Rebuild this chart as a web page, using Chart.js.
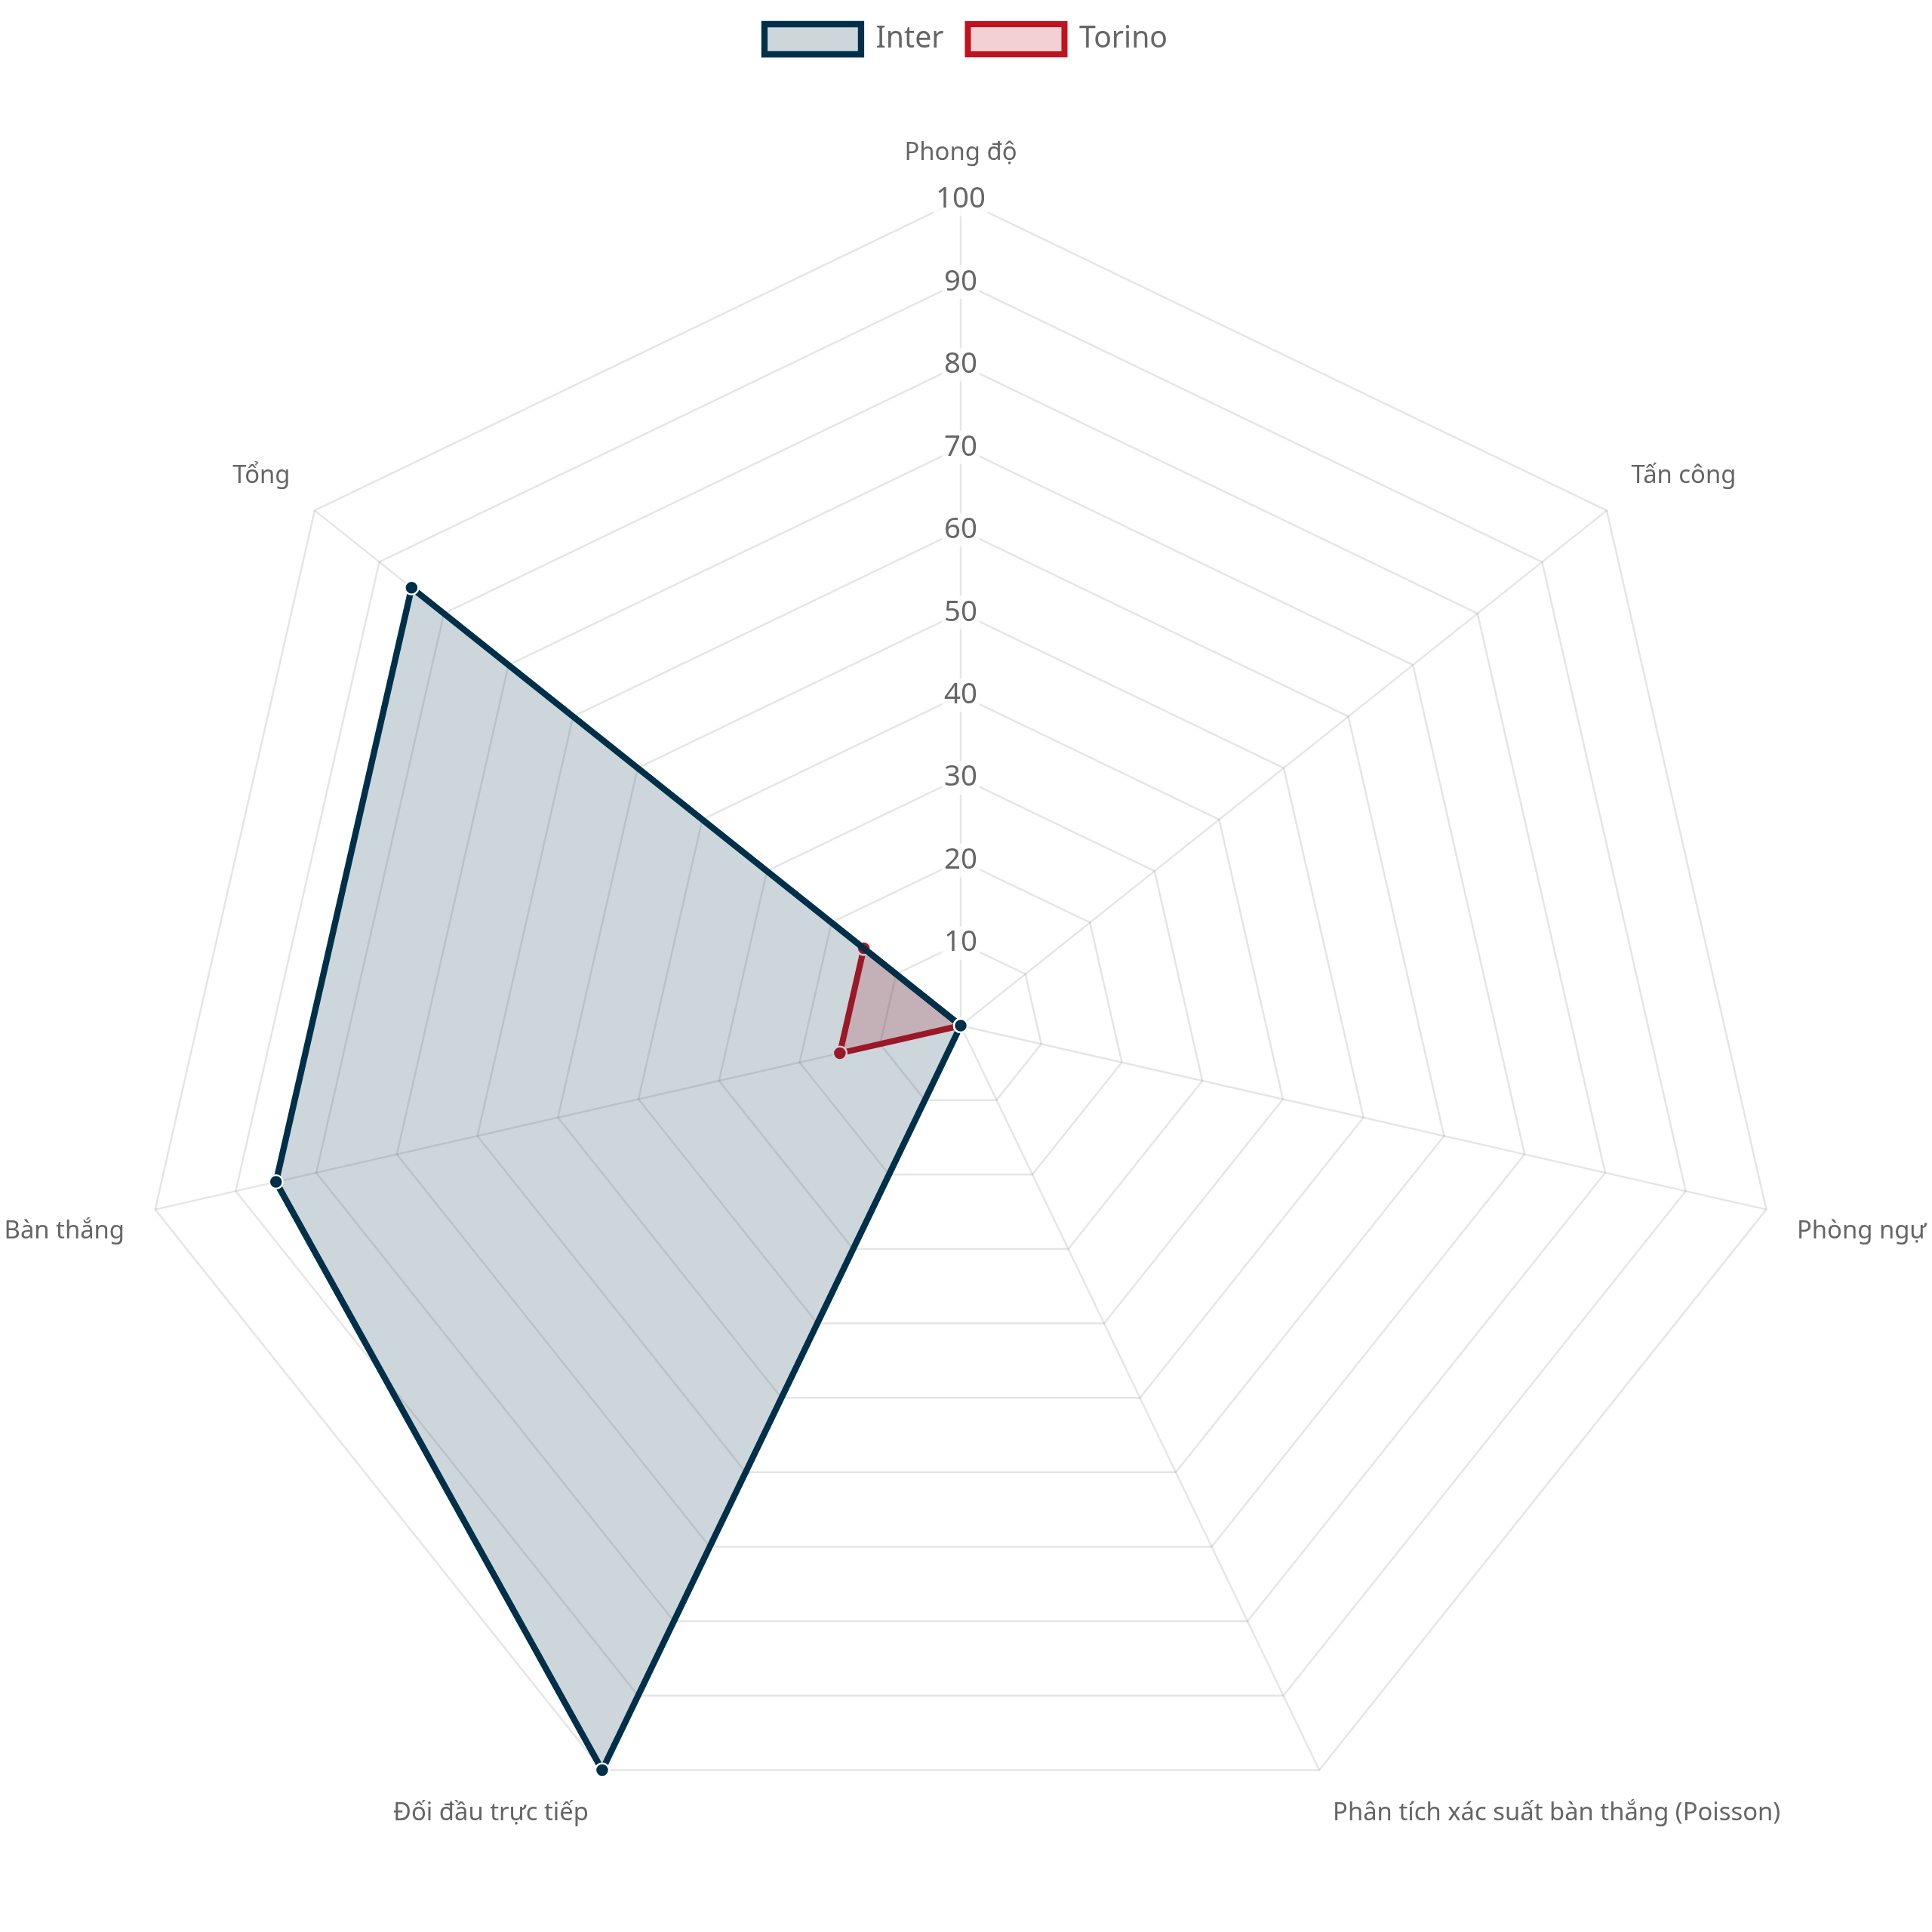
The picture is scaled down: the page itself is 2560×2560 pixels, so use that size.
<!DOCTYPE html>
<html>
<head>
<meta charset="utf-8">
<script src="https://cdn.jsdelivr.net/npm/chart.js@4.4.1/dist/chart.umd.min.js"></script>
<style>
  html, body { margin: 0; padding: 0; background: #fff; }
  #wrap { width: 2560px; height: 2560px; }
</style>
</head>
<body>
<div id="wrap"><canvas id="myChart" width="2560" height="2560"></canvas></div>
<script>
var labels = ['Phong độ', 'Tấn công', 'Phòng ngự', 'Phân tích xác suất bàn thắng (Poisson)', 'Đối đầu trực tiếp', 'Bàn thắng', 'Tổng'];
var interValues = [0, 0, 0, 0, 100, 85, 85];
var torinoValues = [0, 0, 0, 0, 0, 15, 15];
var tickMin = 0;
var tickMax = 100;
var tickStep = 10;

var s = 1.6; // scale factor for sizes

Chart.defaults.font.family = '"Noto Sans", "Open Sans", sans-serif';
Chart.defaults.color = '#666';

// a little extra room under the legend
var legendGap = {
    id: 'legendGap',
    beforeInit: function (chart) {
        var fit = chart.legend.fit;
        chart.legend.fit = function () {
            fit.bind(chart.legend)();
            this.height += 20;
        };
    }
};

var ctx = document.getElementById('myChart').getContext('2d');
var myChart = new Chart(ctx, {
    type: 'radar',
    plugins: [legendGap],
    data: {
        labels: labels,
        datasets: [{
            label: 'Inter',
            data: interValues,
            borderColor: '#003049',
            backgroundColor: 'rgba(0,48,73,0.2)',
            borderWidth: 5.2 * s,
            pointBackgroundColor: '#003049',
            pointBorderColor: '#fff',
            pointBorderWidth: 1.5 * s,
            pointRadius: 5.6 * s
        }, {
            label: 'Torino',
            data: torinoValues,
            borderColor: '#c1121f',
            backgroundColor: 'rgba(193,18,31,0.2)',
            borderWidth: 5 * s,
            pointBackgroundColor: '#c1121f',
            pointBorderColor: '#fff',
            pointBorderWidth: 1.5 * s,
            pointRadius: 5.6 * s
        }]
    },
    options: {
        responsive: false,
        animation: false,
        devicePixelRatio: 1,
        plugins: {
            legend: {
                position: 'top',
                labels: {
                    font: { size: 24.5 * s },
                    boxWidth: 80 * s,
                    boxHeight: 25 * s,
                    padding: 20 * s
                }
            },
            tooltip: { enabled: false }
        },
        scales: {
            r: {
                min: tickMin,
                max: tickMax,
                ticks: {
                    stepSize: tickStep,
                    font: { size: 24 * s },
                    backdropPadding: 2 * s
                },
                pointLabels: {
                    font: { size: 20.5 * s },
                    padding: 12 * s
                },
                grid: { color: 'rgba(0,0,0,0.1)', lineWidth: 2.5 },
                angleLines: { color: 'rgba(0,0,0,0.1)', lineWidth: 2.5 }
            }
        }
    }
});
</script>
</body>
</html>
